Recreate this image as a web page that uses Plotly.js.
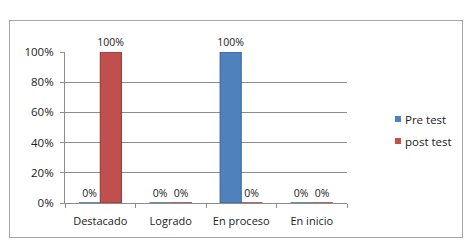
<!DOCTYPE html>
<html>
<head>
<meta charset="utf-8">
<script src="https://cdn.plot.ly/plotly-3.0.1.min.js"></script>
<style>
  html, body { margin: 0; padding: 0; background: #fff; }
  #wrap { position: relative; width: 472px; height: 248px; }
  #chart { position: absolute; left: 0; top: 0; width: 472px; height: 248px; }
  #frame { position: absolute; left: 9px; top: 20px; width: 452px; height: 216px;
           border: 1px solid #a6a6a6; pointer-events: none; }
</style>
</head>
<body>
<div id="wrap">
  <div id="chart"></div>
  <div id="frame"></div>
</div>
<script>
const categories = ["Destacado", "Logrado", "En proceso", "En inicio"];
const preTest = [0, 0, 100, 0];
const postTest = [100, 0, 0, 0];
const seriesNames = ["Pre test", "post test"];
const seriesColors = ["#4F81BD", "#C0504D"];
const tickValues = [0, 20, 40, 60, 80, 100];

const labelFont = { family: "Open Sans, Noto Sans, sans-serif", size: 10.5, color: "#222" };

const traces = [
  {
    type: "bar", name: seriesNames[0], x: categories, y: preTest,
    marker: { color: seriesColors[0], line: { color: "#3A6496", width: 1 } },
    text: preTest.map(v => v + "%"), textposition: "outside", constraintext: "none",
    textfont: labelFont, cliponaxis: false, hoverinfo: "none", showlegend: false
  },
  {
    type: "bar", name: seriesNames[1], x: categories, y: postTest,
    marker: { color: seriesColors[1], line: { color: "#8E3532", width: 1 } },
    text: postTest.map(v => v + "%"), textposition: "outside", constraintext: "none",
    textfont: labelFont, cliponaxis: false, hoverinfo: "none", showlegend: false
  }
];

// plot area in pixels: x 65..347, y 52..203
const px = v => (v - 65) / 282;
const py = v => (203 - v) / 151;
const legendY = [119, 141];

const shapes = seriesNames.map((n, i) => ({
  type: "rect", xref: "paper", yref: "paper",
  x0: px(395), x1: px(401), y0: py(legendY[i] + 3), y1: py(legendY[i] - 3),
  fillcolor: seriesColors[i], line: { width: 0 }
}));
const annotations = seriesNames.map((n, i) => ({
  xref: "paper", yref: "paper", x: px(403), y: py(legendY[i]),
  xanchor: "left", yanchor: "middle", showarrow: false, text: n,
  font: { family: "Open Sans, Noto Sans, sans-serif", size: 11.5, color: "#222" }
}));

const layout = {
  width: 472, height: 248,
  margin: { l: 65, r: 125, t: 52, b: 45, pad: 0 },
  paper_bgcolor: "#fff", plot_bgcolor: "#fff",
  showlegend: false,
  barmode: "group", bargap: 0.4, bargroupgap: 0,
  font: { family: "Open Sans, Noto Sans, sans-serif", size: 11, color: "#222" },
  shapes: shapes,
  annotations: annotations,
  xaxis: {
    type: "category",
    showline: true, linecolor: "#8c8c8c", linewidth: 1,
    ticks: "outside", tickson: "boundaries", ticklen: 4, tickcolor: "#8c8c8c",
    ticklabelstandoff: 8,
    showgrid: false, zeroline: false,
    tickfont: { size: 11, color: "#222" }
  },
  yaxis: {
    range: [0, 100], tickvals: tickValues, ticktext: tickValues.map(v => v + "%"),
    showline: true, linecolor: "#8c8c8c", linewidth: 1,
    ticks: "outside", ticklen: 4, tickcolor: "#8c8c8c",
    ticklabelstandoff: 4,
    showgrid: true, gridcolor: "#8c8c8c", gridwidth: 1,
    zeroline: false,
    tickfont: { size: 11.5, color: "#222" }
  }
};

Plotly.newPlot("chart", traces, layout, { staticPlot: true, displayModeBar: false });
</script>
</body>
</html>
